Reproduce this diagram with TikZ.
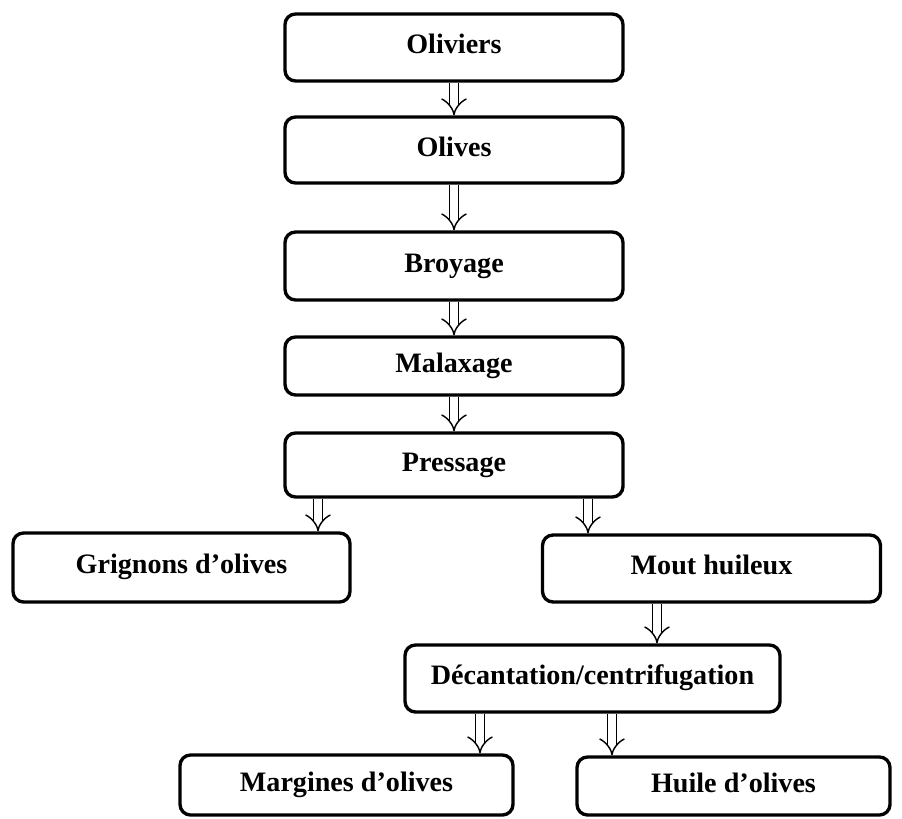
\documentclass[tikz,border=0pt]{standalone}
\usepackage{fontspec}
\setmainfont{Liberation Serif}
\usetikzlibrary{arrows.meta, calc}
\tikzset{
  box/.style={draw, line width=1.9pt, rounded corners=6pt, minimum width=6.76cm, minimum height=1.34cm, inner sep=2pt, text height=12pt, text depth=5pt, font=\fontsize{16}{19}\selectfont\bfseries},
  darr/.style={double, double distance=4.4pt, line width=0.8pt, -{Implies}, shorten >=0pt}
}
\newcommand{\flarr}[3]{\draw[darr] (#1,0 |- #2.south) -- (#1,0 |- #3.north);}

\begin{document}
\begin{tikzpicture}
		\useasboundingbox (0,0) rectangle (18.04,-16.36);
		\node[box] (oli) at (9.08,-0.95) {Oliviers};
		\node[box, minimum height=1.32cm] (olv) at (9.08,-3.0) {Olives};
		\node[box, minimum height=1.36cm] (bro) at (9.08,-5.32) {Broyage};
		\node[box, minimum height=1.16cm] (mal) at (9.08,-7.32) {Malaxage};
		\node[box, minimum height=1.28cm] (pre) at (9.08,-9.30) {Pressage};
		\node[box, minimum width=6.74cm, minimum height=1.38cm] (gri) at (3.63,-11.35) {Grignons d’olives};
		\node[box] (mou) at (14.23,-11.37) {Mout huileux};
		\node[box, minimum width=7.5cm] (dec) at (11.85,-13.57) {Décantation/centrifugation};
		\node[box, minimum width=6.66cm, minimum height=1.2cm] (mar) at (6.93,-15.70) {Margines d’olives};
		\node[box, minimum width=6.26cm, minimum height=1.16cm] (hui) at (14.67,-15.72) {Huile d’olives};
		\flarr{9.08}{oli}{olv}
		\flarr{9.08}{olv}{bro}
		\flarr{9.08}{bro}{mal}
		\flarr{9.08}{mal}{pre}
		\flarr{6.36}{pre}{gri}
		\flarr{11.76}{pre}{mou}
		\flarr{13.14}{mou}{dec}
		\flarr{9.60}{dec}{mar}
		\flarr{12.24}{dec}{hui}
	\end{tikzpicture}
\end{document}
